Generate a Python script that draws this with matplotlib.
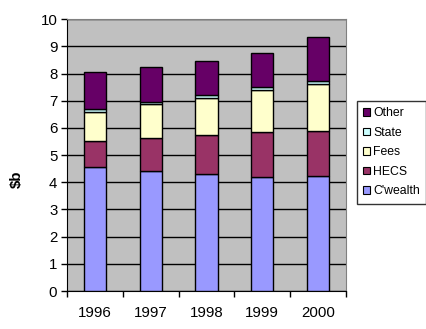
import matplotlib
matplotlib.use("Agg")
import matplotlib.pyplot as plt
import numpy as np
from matplotlib.patches import Patch

years = ["1996", "1997", "1998", "1999", "2000"]
cwealth = [4.55, 4.40, 4.29, 4.18, 4.22]
hecs = [0.96, 1.22, 1.44, 1.66, 1.66]
fees = [1.07, 1.25, 1.36, 1.55, 1.73]
state = [0.11, 0.07, 0.11, 0.11, 0.12]
other = [1.36, 1.29, 1.25, 1.25, 1.61]

series_names = ["C'wealth", "HECS", "Fees", "State", "Other"]
series_vals = [cwealth, hecs, fees, state, other]
colors = ["#9999FF", "#993366", "#FFFFCC", "#CCFFFF", "#660066"]

plt.rcParams['font.family'] = ['Liberation Sans', 'DejaVu Sans']

fig = plt.figure(figsize=(4.27, 3.29), dpi=100)
ax = fig.add_axes([0.157, 0.1155, 0.653, 0.826])
ax.set_facecolor("#C0C0C0")

x = np.arange(len(years))
bottom = np.zeros(len(years))
handles = []
for name, vals, c in zip(series_names, series_vals, colors):
    ax.bar(x, vals, bottom=bottom, width=0.4, color=c, edgecolor="black",
           linewidth=1.0, zorder=3)
    bottom += np.array(vals)
    handles.append(Patch(facecolor=c, edgecolor="black", linewidth=0.8, label=name))

ax.set_xlim(-0.5, len(years) - 0.5)
ax.set_ylim(0, 10)
ax.set_yticks(range(0, 11))
ax.yaxis.grid(True, color="black", linewidth=1.0, zorder=1)
ax.set_axisbelow(True)

ax.set_xticks(x)
ax.set_xticklabels(years, fontsize=10.8)
ax.set_xticks(np.arange(-0.5, len(years)), minor=True)
ax.tick_params(axis='x', which='major', length=0, pad=11)
ax.tick_params(axis='x', which='minor', length=4, width=1, direction='out')
ax.tick_params(axis='y', length=4, width=1, direction='out', labelsize=10.8, pad=3)

for s in ["top", "right"]:
    ax.spines[s].set_color("#808080")
for s in ["left", "bottom"]:
    ax.spines[s].set_color("black")

fig.text(0.04, 0.455, "$b", rotation=90, fontsize=10.8, fontweight="bold",
         ha="center", va="center")

leg = fig.legend(handles=handles[::-1], loc="upper left",
                 bbox_to_anchor=(357/427, 1 - 101/329), fontsize=8.8,
                 frameon=True, fancybox=False, edgecolor="black",
                 handlelength=0.6, handleheight=0.6, handletextpad=0.25,
                 labelspacing=0.62, borderpad=0.5, borderaxespad=0)
leg.get_frame().set_linewidth(1.0)

fig.savefig("out.png", dpi=100)
